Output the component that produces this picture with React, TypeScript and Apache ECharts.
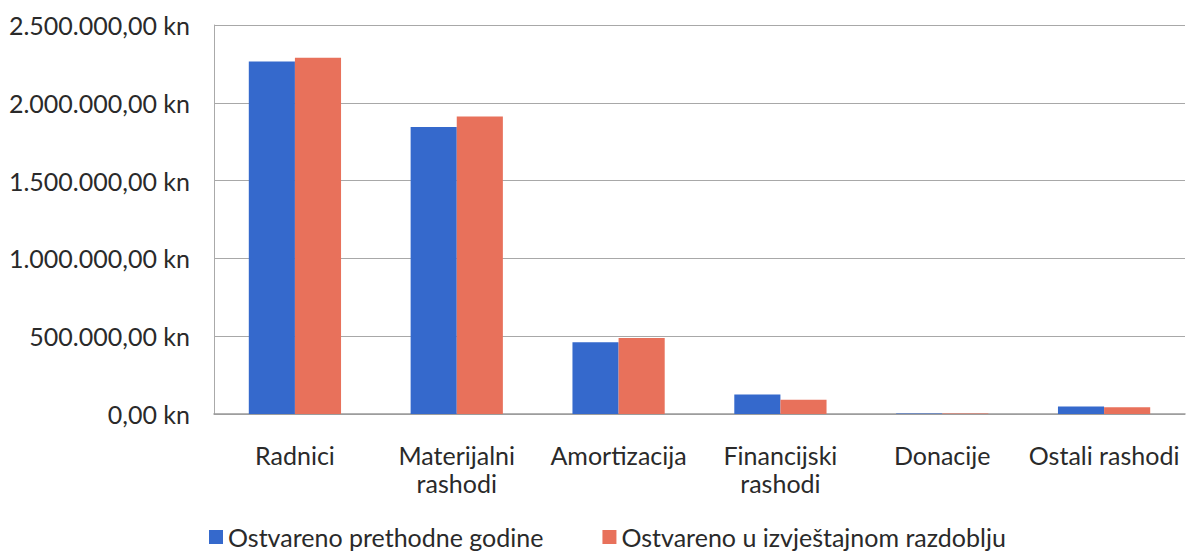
import React, { useEffect, useRef } from "react";
import * as echarts from "echarts";

const categories = ["Radnici", "Materijalni\nrashodi", "Amortizacija", "Financijski\nrashodi", "Donacije", "Ostali rashodi"];
const seriesNames = ["Ostvareno prethodne godine", "Ostvareno u izvještajnom razdoblju"];
const prethodne = [2266000, 1845000, 461000, 126000, 4000, 49000];
const izvjestajno = [2290000, 1912000, 489000, 92000, 3000, 43000];
const yTicks = [0, 500000, 1000000, 1500000, 2000000, 2500000];

function fmtKn(v: number): string {
  const s = Math.round(v).toString().replace(/\B(?=(\d{3})+(?!\d))/g, ".");
  return s + ",00 kn";
}

export default function App() {
  const ref = useRef<HTMLDivElement>(null);
  useEffect(() => {
    if (!ref.current) return;
    const chart = echarts.init(ref.current, undefined, { renderer: "svg" });
    const font = "Lato, 'Open Sans', sans-serif";
    chart.setOption({
      animation: false,
      backgroundColor: "#ffffff",
      textStyle: { fontFamily: font },
      grid: { left: 214, right: 1, top: 25, bottom: 137, containLabel: false },
      legend: {
        data: seriesNames,
        left: 209,
        top: 524,
        padding: 0,
        itemWidth: 14,
        itemHeight: 14,
        itemGap: 59,
        icon: "rect",
        textStyle: { fontSize: 25, lineHeight: 26, color: "#2a2a2a", fontFamily: font },
      },
      xAxis: {
        type: "category",
        data: categories,
        axisLine: { show: true, lineStyle: { color: "#9a9a9a", width: 1.5 } },
        axisTick: { show: false },
        axisLabel: { interval: 0, fontSize: 25, color: "#2a2a2a", margin: 27, lineHeight: 28, fontFamily: font },
      },
      yAxis: {
        type: "value",
        min: 0,
        max: 2500000,
        interval: 500000,
        axisLine: { show: true, lineStyle: { color: "#aaaaaa", width: 1 } },
        axisTick: { show: false },
        splitLine: { show: true, lineStyle: { color: "#a8a8a8", width: 1 } },
        axisLabel: {
          fontSize: 25,
          color: "#2a2a2a",
          margin: 24,
          fontFamily: font,
          formatter: (v: number) => (yTicks.includes(v) ? fmtKn(v) : ""),
        },
      },
      series: [
        {
          name: seriesNames[0],
          type: "bar",
          data: prethodne,
          barGap: "0%",
          barCategoryGap: "43%",
          itemStyle: { color: "#3569cc" },
        },
        {
          name: seriesNames[1],
          type: "bar",
          data: izvjestajno,
          itemStyle: { color: "#e8715b" },
        },
      ],
    });
    return () => chart.dispose();
  }, []);
  return <div ref={ref} style={{ width: 1186, height: 551, position: "absolute", left: 0, top: 0 }} />;
}
